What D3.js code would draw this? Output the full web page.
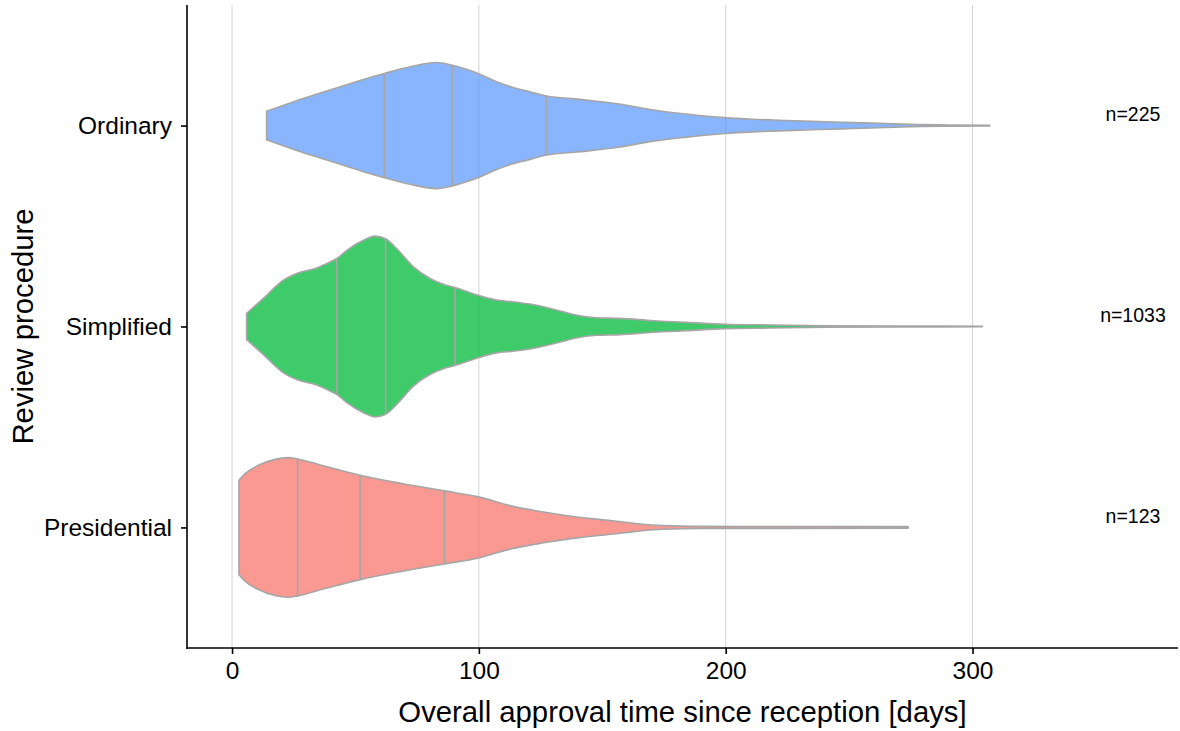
<!DOCTYPE html>
<html>
<head>
<meta charset="utf-8">
<script src="https://cdn.jsdelivr.net/npm/d3@7"></script>
<style>
  html, body { margin: 0; padding: 0; background: #fff; }
  svg { display: block; font-family: "Liberation Sans", Arial, Helvetica, sans-serif; }
</style>
</head>
<body>
<svg id="chart" width="1180" height="731"></svg>
<script>
// ---- data ----
const categories = ["Ordinary", "Simplified", "Presidential"];
const counts = [225, 1033, 123];
const xTicks = [0, 100, 200, 300];
const nLabelDay = 365;

// density profiles (relative, 1 = widest violin) at given days
const ordinaryDays    = [14, 26.2, 39.7, 53.2, 61.7, 72.2, 83, 89.3, 95, 100.4, 107.2, 113.8, 120.7, 127.4, 140.9, 157, 170.6, 184, 199.6, 211, 224.6, 238, 251.5, 265, 275, 290, 307];
const ordinaryDensity = [0.157, 0.275, 0.392, 0.510, 0.576, 0.650, 0.697, 0.667, 0.622, 0.568, 0.485, 0.422, 0.374, 0.326, 0.290, 0.238, 0.172, 0.128, 0.088, 0.070, 0.056, 0.044, 0.033, 0.022, 0.013, 0.007, 0.004];

const simplifiedDays    = [5.9, 12.7, 20.8, 26.2, 34.3, 39.7, 42.4, 46.5, 53.2, 57.9, 62.2, 66.7, 73.5, 80.2, 85.6, 90.3, 100.4, 107.2, 113.9, 120.7, 127.4, 134.2, 140.9, 147.7, 157.2, 170.7, 184.2, 199.8, 218, 240, 270, 304];
const simplifiedDensity = [0.145, 0.311, 0.512, 0.586, 0.648, 0.714, 0.751, 0.843, 0.953, 1.0, 0.971, 0.861, 0.659, 0.531, 0.468, 0.432, 0.339, 0.292, 0.273, 0.248, 0.211, 0.163, 0.119, 0.097, 0.090, 0.064, 0.046, 0.024, 0.017, 0.009, 0.006, 0.003];

const presidentialDays    = [2.8, 5.3, 10.7, 17.4, 22.8, 26.6, 37.7, 51.9, 68.7, 86, 99.8, 113.3, 125.5, 139, 150, 159.2, 166, 175, 190, 220, 273.9];
const presidentialDensity = [0.522, 0.595, 0.687, 0.753, 0.772, 0.757, 0.676, 0.577, 0.486, 0.404, 0.338, 0.236, 0.173, 0.118, 0.085, 0.058, 0.036, 0.020, 0.012, 0.010, 0.009];

// quartiles (25%, 50%, 75%)
const ordinaryQuartiles     = [61.7, 89.3, 127.4];
const simplifiedQuartiles   = [42.4, 62.2, 90.3];
const presidentialQuartiles = [26.6, 51.9, 86.0];

// ---- styles ----
const fillColors = { Ordinary: "#619CFF", Simplified: "#00BA38", Presidential: "#F8766D" };
const outline = "#a6a6a6";

const groups = [
  { name: "Ordinary", days: ordinaryDays, dens: ordinaryDensity, q: ordinaryQuartiles, n: counts[0] },
  { name: "Simplified", days: simplifiedDays, dens: simplifiedDensity, q: simplifiedQuartiles, n: counts[1] },
  { name: "Presidential", days: presidentialDays, dens: presidentialDensity, q: presidentialQuartiles, n: counts[2] }
];

// ---- layout ----
const mLeft = 187, mRight = 1178, mTop = 5, mBottom = 648;
const svg = d3.select("#chart");

const dataMin = 0, dataMax = nLabelDay;
const pad = (dataMax - dataMin) * 0.05;
const x = d3.scaleLinear().domain([dataMin - pad, dataMax + pad]).range([mLeft, mRight]);
const y = d3.scalePoint().domain(categories.slice().reverse()).range([mBottom, mTop]).padding(0.6);
const w = d3.scaleLinear().domain([0, 1]).range([0, 0.45 * y.step()]);

// gridlines
svg.append("g").selectAll("line").data(xTicks).join("line")
  .attr("x1", d => x(d)).attr("x2", d => x(d))
  .attr("y1", mTop).attr("y2", mBottom)
  .attr("stroke", "#d3d3d3").attr("stroke-width", 1);

const defs = svg.append("defs");

groups.forEach((g, i) => {
  const cy = y(g.name);
  const pts = g.days.map((d, k) => [d, g.dens[k]]);
  const area = d3.area()
    .x(p => x(p[0]))
    .y0(p => cy - w(p[1]))
    .y1(p => cy + w(p[1]))
    .curve(d3.curveMonotoneX);
  const pathD = area(pts);

  defs.append("clipPath").attr("id", "clip" + i)
    .append("path").attr("d", pathD);

  svg.append("path")
    .attr("d", pathD)
    .attr("fill", fillColors[g.name])
    .attr("fill-opacity", 0.75)
    .attr("stroke", outline)
    .attr("stroke-width", 1.6)
    .attr("stroke-linejoin", "round");

  svg.append("g").attr("clip-path", "url(#clip" + i + ")")
    .selectAll("line").data(g.q).join("line")
    .attr("x1", d => x(d)).attr("x2", d => x(d))
    .attr("y1", cy - w(1.05)).attr("y2", cy + w(1.05))
    .attr("stroke", outline).attr("stroke-width", 1.6);

  svg.append("text")
    .attr("x", x(nLabelDay))
    .attr("y", cy)
    .attr("dy", "-0.23em")
    .attr("text-anchor", "middle")
    .attr("font-size", "19.5px")
    .attr("fill", "#000")
    .text("n=" + g.n);
});

// axes
const xAxis = svg.append("g").attr("transform", `translate(0,${mBottom})`)
  .call(d3.axisBottom(x).tickValues(xTicks).tickSizeInner(6).tickSizeOuter(0).tickPadding(8));
const yAxis = svg.append("g").attr("transform", `translate(${mLeft},0)`)
  .call(d3.axisLeft(y).tickSizeInner(6).tickSizeOuter(0).tickPadding(9));

[xAxis, yAxis].forEach(a => {
  a.select(".domain").attr("stroke", "#000").attr("stroke-width", 1.6);
  a.selectAll(".tick line").attr("stroke", "#000").attr("stroke-width", 1.6);
  a.selectAll(".tick text").attr("fill", "#000")
    .style("font-size", "24.5px")
    .style("font-family", '"Liberation Sans", Arial, Helvetica, sans-serif');
});
xAxis.select(".domain").attr("d", `M${mLeft - 0.8},0H${mRight}`);
yAxis.select(".domain").attr("d", `M0,${mTop}V${mBottom + 0.8}`);

// titles
svg.append("text")
  .attr("x", (mLeft + mRight) / 2)
  .attr("y", 722)
  .attr("text-anchor", "middle")
  .attr("font-size", "29.3px")
  .attr("fill", "#000")
  .text("Overall approval time since reception [days]");

svg.append("text")
  .attr("transform", `translate(33,${(mTop + mBottom) / 2}) rotate(-90)`)
  .attr("text-anchor", "middle")
  .attr("font-size", "29.3px")
  .attr("fill", "#000")
  .text("Review procedure");
</script>
</body>
</html>
